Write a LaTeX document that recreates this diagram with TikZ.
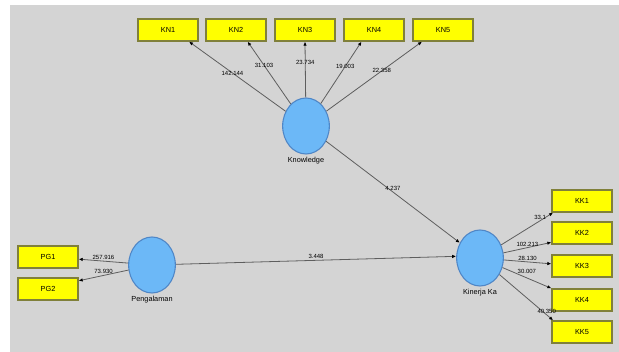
\documentclass[tikz,border=0pt]{standalone}
\usepackage{fontspec}
\setmainfont{Liberation Sans}
\usetikzlibrary{shapes.geometric,arrows.meta}
\definecolor{canvas}{HTML}{D4D4D4}
\definecolor{mvfill}{HTML}{FFFF00}
\definecolor{mvline}{HTML}{80803A}
\definecolor{lvfill}{HTML}{6CB8F7}
\definecolor{lvline}{HTML}{4F86C6}
\definecolor{pathline}{HTML}{5E5E5E}
\tikzset{
  indicator/.style={draw=mvline, line width=1pt, fill=mvfill, minimum width=45pt, minimum height=16.5pt, inner sep=0pt, font=\fontsize{5.5}{6}\selectfont},
  construct/.style={ellipse, draw=lvline, line width=.8pt, fill=lvfill, minimum width=35pt, minimum height=42pt, inner sep=0pt},
  loading/.style={draw=pathline, line width=.6pt, -{Latex[length=3pt,width=2.6pt,color=black]}},
  coef/.style={font=\fontsize{4.5}{5}\selectfont, inner sep=.8pt},
  lvname/.style={font=\fontsize{5.5}{6}\selectfont}
}

\begin{document}
\begin{tikzpicture}[x=0.75pt,y=-0.75pt]
            \useasboundingbox (0,0) rectangle (619,352);
            \fill[canvas] (10,5) rectangle (619,352);
            % latent variables
            \node[construct] (know) at (306,126) {};
            \node[construct] (peng) at (152,265) {};
            \node[construct] (kin) at (480,258) {};
            \node[lvname] (knowname) at (306,161) {Knowledge};
            \node[lvname] (pengname) at (152,300) {Pengalaman};
            \node[lvname] (kinname) at (480,293) {Kinerja Ka};
            % indicators
            \node[indicator] (kn1) at (168,30) {KN1};
            \node[indicator] (kn2) at (236,30) {KN2};
            \node[indicator] (kn3) at (305,30) {KN3};
            \node[indicator] (kn4) at (374,30) {KN4};
            \node[indicator] (kn5) at (443,30) {KN5};
            \node[indicator] (pg1) at (48,257) {PG1};
            \node[indicator] (pg2) at (48,289) {PG2};
            \node[indicator] (kk1) at (582,201) {KK1};
            \node[indicator] (kk2) at (582,233) {KK2};
            \node[indicator] (kk3) at (582,266) {KK3};
            \node[indicator] (kk4) at (582,300) {KK4};
            \node[indicator] (kk5) at (582,332) {KK5};
            % outer loadings
            \draw[loading] (know) -- (kn1.-29) node[coef,pos=.55]{142.144};
            \draw[loading] (know) -- (kn2.-45) node[coef,pos=.62]{31.103};
            \draw[loading] (know) -- (kn3.south) node[coef,pos=.62]{23.734};
            \draw[loading] (know) -- (kn4.-137) node[coef,pos=.6]{19.003};
            \draw[loading] (know) -- (kn5.-151) node[coef,pos=.58]{22.358};
            \draw[loading] (peng) -- (pg1.-4) node[coef,pos=.5,above]{257.916};
            \draw[loading] (peng) -- (pg2.15) node[coef,pos=.5,above]{73.930};
            \draw[loading] (kin) -- (kk1.-158) node[coef,pos=.75,above]{33.1};
            \draw[loading] (kin) -- (kk2.-163) node[coef,pos=.5,above]{102.213};
            \draw[loading] (kin) -- (kk3.176) node[coef,pos=.5,above]{28.130};
            \draw[loading] (kin) -- (kk4.north west) node[coef,pos=.5,above=2pt]{30.007};
            \draw[loading] (kin) -- (kk5.158) node[coef,pos=.88,above]{40.350};
            % inner paths
            \draw[loading] (know) -- (kin.143) node[coef,pos=.5,above]{4.237};
            \draw[loading] (peng) -- (kin.176) node[coef,pos=.5,above]{3.448};
\end{tikzpicture}
\end{document}
